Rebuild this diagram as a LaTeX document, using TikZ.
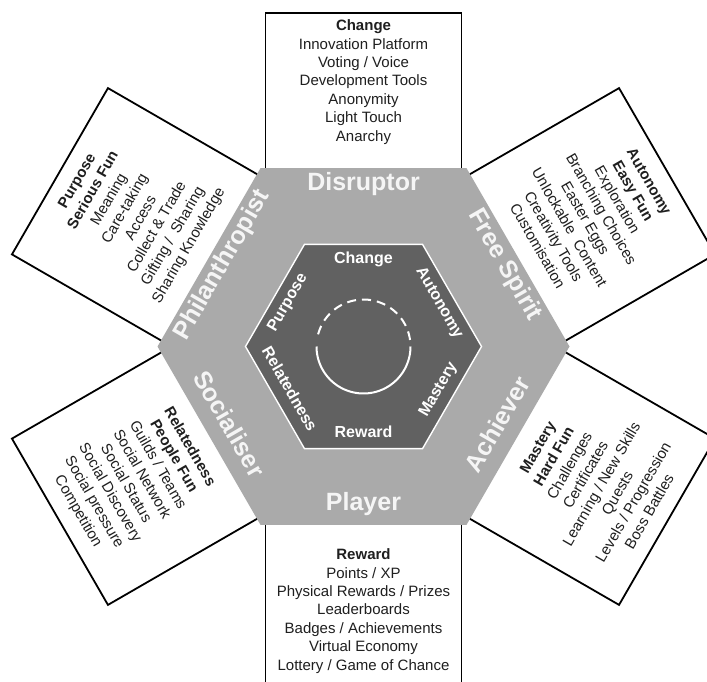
\documentclass[tikz,border=0pt]{standalone}
\usepackage{fontspec}
\setmainfont{Liberation Sans}
\begin{document}
\begin{tikzpicture}[x=1pt,y=-1pt,
  boxline/.style={draw=black, line width=1.8pt, fill=white, line join=miter},
  boxtext/.style={align=center, font=\fontsize{15}{18.4}\selectfont, text=black!88, inner sep=0pt},
  outerlab/.style={font=\fontsize{25}{25}\bfseries\selectfont, text=white!96!black, inner sep=0pt, text height=0.72em, text depth=0pt},
  innerlab/.style={font=\fontsize{16}{16}\bfseries\selectfont, text=white, inner sep=0pt, text height=0.72em, text depth=0pt},
  hexout/.style={fill=outergray},
  hexin/.style={fill=innergray, draw=white, line width=1.4pt},
  ring/.style={draw=white, line width=2pt},
]
\definecolor{outergray}{HTML}{AAAAAA}
\definecolor{innergray}{HTML}{616161}
\useasboundingbox (0,0) rectangle (707,682);
\clip (0,0) rectangle (707,682);
\coordinate (C) at (363.5,346.5);

% ---- boxes ----
\begin{scope}[shift={(C)}]
  \draw[boxline] (-98,-333.5) -- (98,-333.5) -- (98,-170) -- (-98,-170) -- cycle;
  \node[boxtext] (tD) at (0,-264.5) {\textbf{Change}\\Innovation Platform\\Voting / Voice\\Development Tools\\Anonymity\\Light Touch\\Anarchy};
\end{scope}
\begin{scope}[shift={(C)}, rotate=60]
  \draw[boxline] (-96,-350.5) -- (96,-350.5) -- (96,-170) -- (-96,-170) -- cycle;
  \node[boxtext, rotate=60] (tPh) at (0,-265.5) {\textbf{Purpose}\\\textbf{Serious Fun}\\Meaning\\Care-taking\\Access\\Collect \& Trade\\Gifting /~ Sharing\\Sharing Knowledge};
\end{scope}
\begin{scope}[shift={(C)}, rotate=-60]
  \draw[boxline] (-96,-350.5) -- (96,-350.5) -- (96,-170) -- (-96,-170) -- cycle;
  \node[boxtext, rotate=-60] (tFS) at (0,-265.5) {\textbf{Autonomy}\\\textbf{Easy Fun}\\Exploration\\Branching Choices\\Easter Eggs\\Unlockable~ Content\\Creativity Tools\\Customisation};
\end{scope}
\begin{scope}[shift={(C)}, rotate=120]
  \draw[boxline] (-96,-350.5) -- (96,-350.5) -- (96,-170) -- (-96,-170) -- cycle;
  \node[boxtext, rotate=-60] (tSo) at (0,-265.5) {\textbf{Relatedness}\\\textbf{People Fun}\\Guilds / Teams\\Social Network\\Social Status\\Social Discovery\\Social pressure\\Competition};
\end{scope}
\begin{scope}[shift={(C)}, rotate=-120]
  \draw[boxline] (-96,-350.5) -- (96,-350.5) -- (96,-170) -- (-96,-170) -- cycle;
  \node[boxtext, rotate=60] (tAc) at (0,-265.5) {\textbf{Mastery}\\\textbf{Hard Fun}\\Challenges\\Certificates\\Learning / New Skills\\Quests\\Levels / Progression\\Boss Battles};
\end{scope}
\begin{scope}[shift={(C)}, rotate=180]
  \draw[boxline] (-98,-350) -- (98,-350) -- (98,-170) -- (-98,-170) -- cycle;
  \node[boxtext, rotate=0] (tPl) at (0,-264.5) {\textbf{Reward}\\Points / XP\\Physical Rewards / Prizes\\Leaderboards\\Badges / Achievements\\Virtual Economy\\Lottery / Game of Chance};
\end{scope}

% ---- hexagons ----
\begin{scope}[shift={(C)}]
  \path[hexout] (0:206) -- (60:206) -- (120:206) -- (180:206) -- (240:206) -- (300:206) -- cycle;
  \path[hexin] (0:118) -- (60:118) -- (120:118) -- (180:118) -- (240:118) -- (300:118) -- cycle;
\end{scope}

% ---- ring ----
\draw[ring] plot[domain=0:180, samples=72, smooth] ({363.5+47*cos(\x)}, {346.5+47*sin(\x)});
\draw[ring, dash pattern=on 9pt off 6pt] plot[domain=195:352, samples=72, smooth] ({363.5+47*cos(\x)}, {346.5+47*sin(\x)});

% ---- labels ----
\begin{scope}[shift={(C)}]
  \node[outerlab] (lD) at (0,-160) {Disruptor};
  \node[innerlab] (iD) at (0,-87) {Change};
\end{scope}
\begin{scope}[shift={(C)}, rotate=60]
  \node[outerlab, rotate=60] (lPh) at (0,-160) {Philanthropist};
  \node[innerlab, rotate=60] (iPh) at (0,-87) {Purpose};
\end{scope}
\begin{scope}[shift={(C)}, rotate=-60]
  \node[outerlab, rotate=-60] (lFS) at (0,-160) {Free Spirit};
  \node[innerlab, rotate=-60] (iFS) at (0,-87) {Autonomy};
\end{scope}
\begin{scope}[shift={(C)}, rotate=120]
  \node[outerlab, rotate=-60] (lSo) at (0,-160) {Socialiser};
  \node[innerlab, rotate=-60] (iSo) at (0,-87) {Relatedness};
\end{scope}
\begin{scope}[shift={(C)}, rotate=-120]
  \node[outerlab, rotate=60] (lAc) at (0,-160) {Achiever};
  \node[innerlab, rotate=60] (iAc) at (0,-87) {Mastery};
\end{scope}
\begin{scope}[shift={(C)}, rotate=180]
  \node[outerlab, rotate=0] (lPl) at (0,-160) {Player};
  \node[innerlab, rotate=0] (iPl) at (0,-87) {Reward};
\end{scope}
\end{tikzpicture}
\end{document}
